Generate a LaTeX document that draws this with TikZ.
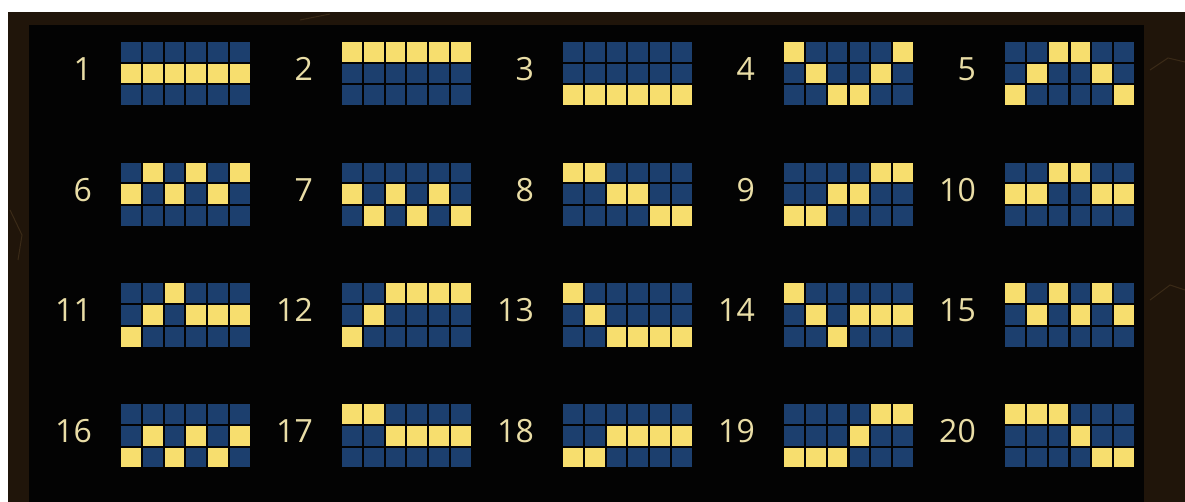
\documentclass[tikz,border=0pt]{standalone}
\usepackage{fontspec}
\setmainfont{Open Sans}

\definecolor{panelblack}{HTML}{030303}
\definecolor{framebrown}{HTML}{20150A}
\definecolor{crackbrown}{HTML}{3A2A17}
\definecolor{cellblue}{HTML}{1C3F6E}
\definecolor{cellyellow}{HTML}{F7DE6E}
\definecolor{numbeige}{HTML}{E9DDA6}

\tikzset{
  cellbox/.style={fill=cellblue},
  hitbox/.style={fill=cellyellow},
  linenum/.style={anchor=east, text=numbeige, inner sep=0pt,
    font=\fontsize{32}{32}\selectfont},
}

\begin{document}
\begin{tikzpicture}[x=1pt,y=-1pt]
  \useasboundingbox (0,0) rectangle (1185,502);
  % frame and panel
  \fill[white] (0,0) rectangle (1185,502);
  \fill[framebrown] (8,12) rectangle (1185,502);
  \draw[crackbrown, line width=1pt] (1150,70) -- (1168,58) -- (1185,62);
  \draw[crackbrown, line width=1pt] (1150,300) -- (1170,285) -- (1185,290);
  \draw[crackbrown, line width=1pt] (300,20) -- (330,14);
  \draw[crackbrown, line width=1pt] (10,210) -- (22,235) -- (18,260);
  \fill[panelblack] (29,25) rectangle (1144,502);

  % the 20 lines: number / row of the lit cell in each column (0 = top)
  \foreach \n/\rows in {
      1/{1,1,1,1,1,1}, 2/{0,0,0,0,0,0}, 3/{2,2,2,2,2,2}, 4/{0,1,2,2,1,0},
      5/{2,1,0,0,1,2}, 6/{1,0,1,0,1,0}, 7/{1,2,1,2,1,2}, 8/{0,0,1,1,2,2},
      9/{2,2,1,1,0,0}, 10/{1,1,0,0,1,1}, 11/{2,1,0,1,1,1}, 12/{2,1,0,0,0,0},
      13/{0,1,2,2,2,2}, 14/{0,1,2,1,1,1}, 15/{0,1,0,1,0,1}, 16/{2,1,2,1,2,1},
      17/{0,0,1,1,1,1}, 18/{2,2,1,1,1,1}, 19/{2,2,2,1,0,0}, 20/{0,0,0,1,2,2}} {
    \pgfmathtruncatemacro\gc{mod(\n-1,5)}
    \pgfmathtruncatemacro\gr{div(\n-1,5)}
    \pgfmathsetmacro\gx{120+221*\gc}
    \pgfmathsetmacro\gy{41+120.7*\gr}
    \node[linenum] (num\n) at (\gx-28,\gy+28) {\n};
    \foreach \r in {0,1,2}
      \foreach \c in {0,...,5}
        \fill[cellbox] ({\gx+\c*21.83+1},{\gy+\r*21.7+1}) rectangle +(19.8,19.7);
    \foreach \r [count=\c from 0] in \rows
      \fill[hitbox] ({\gx+\c*21.83+1},{\gy+\r*21.7+1}) rectangle +(19.8,19.7);
  }
\end{tikzpicture}
\end{document}
